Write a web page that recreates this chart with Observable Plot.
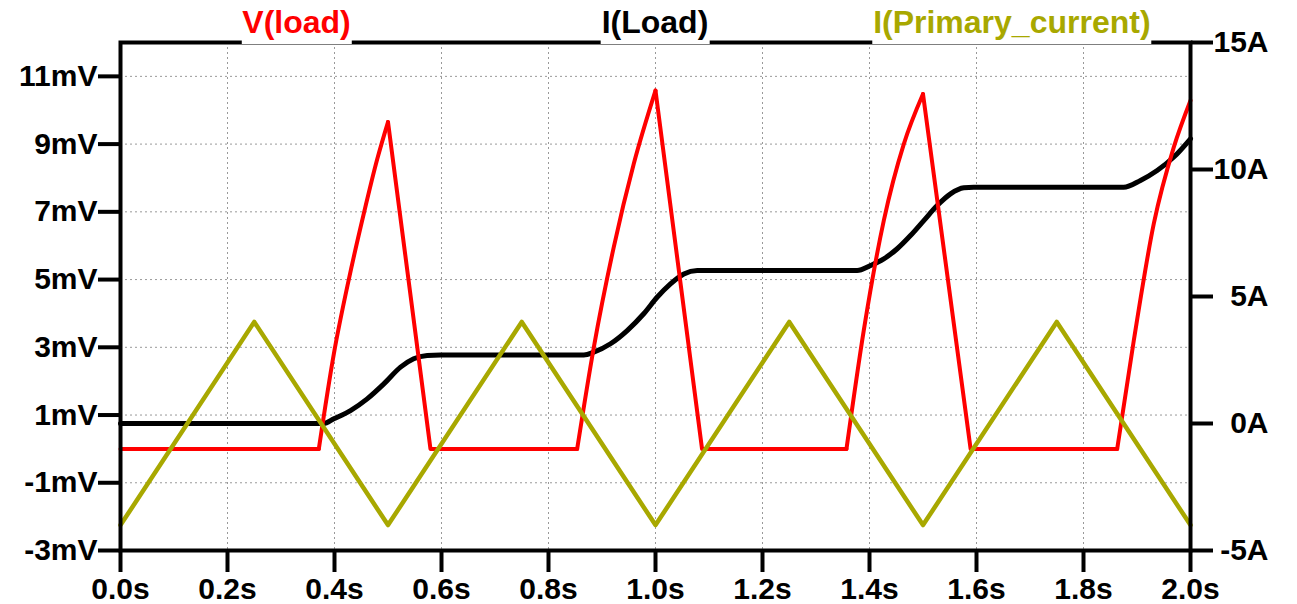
<!DOCTYPE html>
<html><head><meta charset="utf-8">
<script src="https://cdn.jsdelivr.net/npm/d3@7"></script>
<script src="https://cdn.jsdelivr.net/npm/@observablehq/plot@0.6"></script>
<style>
body{margin:0;background:#fff;}
#wrap{position:relative;width:1297px;height:604px;font-family:"Liberation Sans",Arial,sans-serif;}
.title{position:absolute;top:0;height:44px;line-height:44px;font-size:32px;font-weight:bold;background:#fff;transform:translateX(-50%);white-space:nowrap;padding:0 1px;}
</style></head><body><div id="wrap"></div>
<script>
// ---- data ----
const titles = ["V(load)", "I(Load)", "I(Primary_current)"];
const titleColors = ["#ff0000", "#000000", "#a8a800"];
const titleTimes = [0.33, 1.0, 1.667];

const xTicks = [0, 0.2, 0.4, 0.6, 0.8, 1.0, 1.2, 1.4, 1.6, 1.8, 2.0];
const leftTicksMv = [-3, -1, 1, 3, 5, 7, 9, 11];
const leftDomainMv = [-3, 12];
const rightTicksA = [-5, 0, 5, 10, 15];
const rightDomainA = [-5, 15];

// V(load) in mV
const vLoadT = [0, 0.3707, 0.3987, 0.4267, 0.4548, 0.4798, 0.5, 0.5794, 0.8536, 0.8847, 0.922, 0.9594, 1.0, 1.087, 1.357, 1.3893, 1.4267, 1.4641, 1.5, 1.589, 1.863, 1.894, 1.9314, 1.9688, 2.0];
const vLoadMv = [0, 0, 2.8, 5.0, 6.95, 8.55, 9.65, 0, 0, 3.0, 5.96, 8.42, 10.58, 0, 0, 3.5, 6.74, 9.0, 10.48, 0, 0, 3.2, 6.65, 8.91, 10.29];

// I(Load) in A
const iLoadT = [0, 0.38, 0.3987, 0.4299, 0.4611, 0.4922, 0.5234, 0.548, 0.5733, 0.598, 0.866, 0.8847, 0.9159, 0.9471, 0.978, 1.003, 1.028, 1.053, 1.078, 1.377, 1.4019, 1.4267, 1.4518, 1.4766, 1.5015, 1.5265, 1.5514, 1.5763, 1.595, 1.875, 1.9065, 1.9377, 1.9688, 2.0];
const iLoadA = [0, 0, 0.185, 0.51, 0.97, 1.56, 2.22, 2.55, 2.68, 2.70, 2.70, 2.81, 3.14, 3.66, 4.32, 4.97, 5.50, 5.89, 6.02, 6.02, 6.22, 6.48, 6.88, 7.40, 7.99, 8.58, 9.04, 9.28, 9.30, 9.30, 9.57, 9.96, 10.49, 11.21];

// I(Primary_current) in A
const iPrimT = [0, 0.25, 0.5, 0.75, 1.0, 1.25, 1.5, 1.75, 2.0];
const iPrimA = [-4, 4, -4, 4, -4, 4, -4, 4, -4];

// ---- build ----
const aToMv = d3.scaleLinear(rightDomainA, leftDomainMv);
const iLoad = iLoadT.map((t, i) => ({t, v: aToMv(iLoadA[i])}));
const iPrim = iPrimT.map((t, i) => ({t, v: aToMv(iPrimA[i])}));

// split V(load) into rising pieces (drawn smooth) and other pieces (drawn straight)
const risePieces = [], flatPieces = [];
{
  let id = 0, cur = null, curRise = null;
  for (let i = 0; i < vLoadT.length - 1; i++) {
    const rising = vLoadMv[i + 1] > vLoadMv[i];
    if (cur === null || rising !== curRise) {
      id++; curRise = rising;
      cur = (rising ? risePieces : flatPieces);
      cur.push({t: vLoadT[i], v: vLoadMv[i], id});
    }
    cur.push({t: vLoadT[i + 1], v: vLoadMv[i + 1], id});
  }
}

const gridStyle = {stroke: "#999", strokeOpacity: 1, strokeWidth: 1, strokeDasharray: "2,3"};

const plot = Plot.plot({
  width: 1297, height: 604,
  marginLeft: 120, marginRight: 107, marginTop: 42, marginBottom: 54,
  style: {fontFamily: "'Liberation Sans', Arial, sans-serif", fontSize: "30px", fontWeight: "bold", color: "black", background: "white", overflow: "visible"},
  x: {domain: [0, 2]},
  y: {domain: leftDomainMv},
  marks: [
    Plot.gridX(xTicks.slice(1, -1), gridStyle),
    Plot.gridY(leftTicksMv.slice(1), gridStyle),
    Plot.line(iLoad, {x: "t", y: "v", stroke: "#000", strokeWidth: 5, curve: "monotone-x"}),
    Plot.line(flatPieces, {x: "t", y: "v", z: "id", stroke: "#ff0000", strokeWidth: 4, strokeLinecap: "round", strokeLinejoin: "round"}),
    Plot.line(risePieces, {x: "t", y: "v", z: "id", stroke: "#ff0000", strokeWidth: 4, curve: "monotone-x", strokeLinecap: "round", strokeLinejoin: "round"}),
    Plot.line(iPrim, {x: "t", y: "v", stroke: "#a8a800", strokeWidth: 4.5}),
    Plot.frame({stroke: "#000", strokeWidth: 4}),
    Plot.axisX(xTicks, {tickSize: 22, tickPadding: 5, strokeWidth: 4, tickFormat: d => d.toFixed(1) + "s", label: null}),
    Plot.axisY(leftTicksMv, {anchor: "left", tickSize: 22, tickPadding: 1, strokeWidth: 4, tickFormat: d => d + "mV", label: null}),
    Plot.axisY(rightTicksA.map(a => aToMv(a)), {anchor: "right", tickSize: 22, tickPadding: 56, textAnchor: "end", strokeWidth: 4, tickFormat: d => Math.round(aToMv.invert(d)) + "A", label: null})
  ]
});

const wrap = document.getElementById("wrap");
wrap.appendChild(plot);
const xs = plot.scale("x");
titles.forEach((txt, i) => {
  const s = document.createElement("span");
  s.className = "title";
  s.textContent = txt;
  s.style.color = titleColors[i];
  s.style.left = xs.apply(titleTimes[i]) + "px";
  wrap.appendChild(s);
});
</script>
</body></html>
